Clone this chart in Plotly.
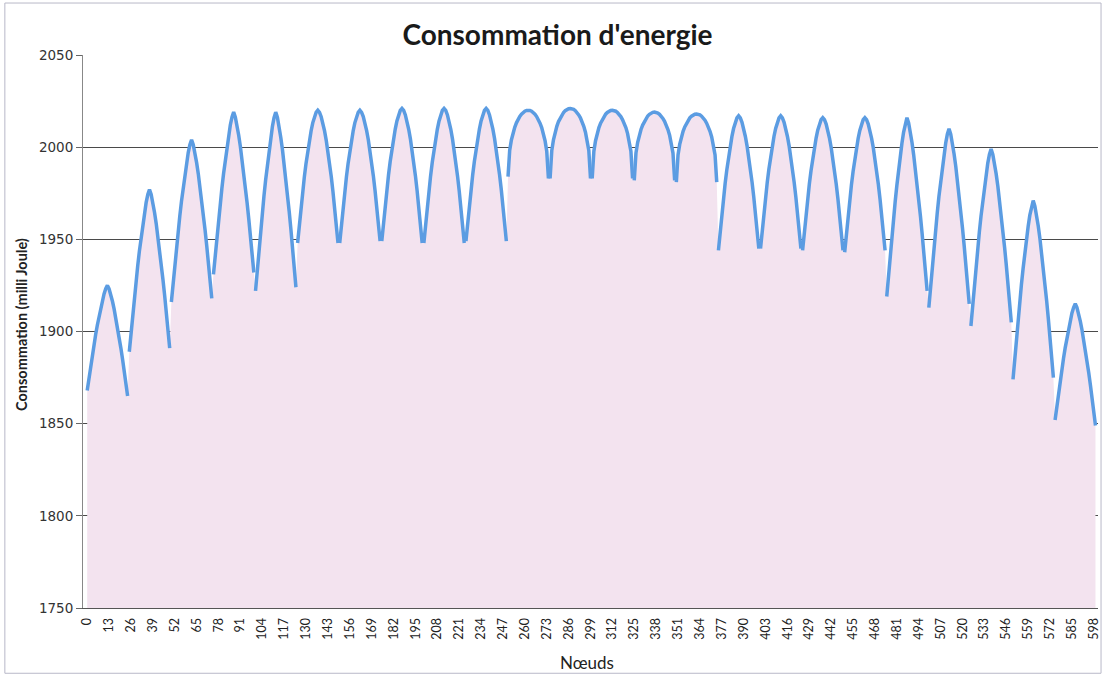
import plotly.graph_objects as go

# Consommation par noeud : 24 rangées de 25 noeuds (noeuds 0 à 599)
arch_01 = [1868.0, 1874.6, 1880.8, 1886.9, 1892.7, 1898.2, 1903.4, 1908.2, 1912.7, 1916.8, 1920.4, 1923.2, 1925.0,
           1923.1, 1920.1, 1916.4, 1912.1, 1907.4, 1902.3, 1896.8, 1891.0, 1884.9, 1878.5, 1871.9, 1865.0]
arch_02 = [1889.0, 1899.1, 1908.8, 1918.2, 1927.1, 1935.6, 1943.6, 1951.1, 1958.1, 1964.3, 1969.9, 1974.3, 1977.0,
           1974.3, 1970.0, 1964.6, 1958.5, 1951.7, 1944.4, 1936.6, 1928.2, 1919.6, 1910.4, 1900.9, 1891.0]
arch_03 = [1916.0, 1926.1, 1935.8, 1945.2, 1954.1, 1962.6, 1970.6, 1978.1, 1985.1, 1991.3, 1996.9, 2001.3, 2004.0,
           2001.3, 1997.0, 1991.6, 1985.5, 1978.7, 1971.4, 1963.6, 1955.2, 1946.6, 1937.4, 1927.9, 1918.0]
arch_04 = [1931.0, 1941.1, 1950.8, 1960.2, 1969.1, 1977.6, 1985.6, 1993.1, 2000.1, 2006.3, 2011.9, 2016.3, 2019.0,
           2016.3, 2012.0, 2006.5, 2000.3, 1993.4, 1986.0, 1978.1, 1969.7, 1960.9, 1951.6, 1942.0, 1932.0]
arch_05 = [1922.0, 1933.2, 1943.8, 1954.2, 1964.0, 1973.4, 1982.2, 1990.5, 1998.1, 2005.0, 2011.1, 2016.0, 2019.0,
           2016.1, 2011.3, 2005.3, 1998.6, 1991.1, 1983.0, 1974.4, 1965.1, 1955.5, 1945.4, 1934.9, 1924.0]
arch_06 = [1948.0, 1957.9, 1967.2, 1975.9, 1983.9, 1991.2, 1997.8, 2003.7, 2008.8, 2013.2, 2016.5, 2018.9, 2020.0,
           2018.9, 2016.5, 2013.2, 2008.8, 2003.7, 1997.8, 1991.2, 1983.9, 1975.9, 1967.2, 1957.9, 1948.0]
arch_07 = [1948.0, 1957.9, 1967.2, 1975.9, 1983.9, 1991.2, 1997.8, 2003.7, 2008.8, 2013.2, 2016.5, 2018.9, 2020.0,
           2018.9, 2016.6, 2013.3, 2009.0, 2004.0, 1998.1, 1991.6, 1984.4, 1976.5, 1968.0, 1958.8, 1949.0]
arch_08 = [1949.0, 1958.9, 1968.2, 1976.9, 1984.9, 1992.2, 1998.8, 2004.7, 2009.8, 2014.2, 2017.5, 2019.9, 2021.0,
           2019.9, 2017.5, 2014.1, 2009.7, 2004.5, 1998.5, 1991.8, 1984.4, 1976.3, 1967.5, 1958.1, 1948.0]
arch_09 = [1948.0, 1958.1, 1967.5, 1976.3, 1984.4, 1991.8, 1998.5, 2004.5, 2009.7, 2014.1, 2017.5, 2019.9, 2021.0,
           2019.9, 2017.5, 2014.1, 2009.7, 2004.5, 1998.5, 1991.8, 1984.4, 1976.3, 1967.5, 1958.1, 1948.0]
arch_10 = [1949.0, 1958.9, 1968.2, 1976.9, 1984.9, 1992.2, 1998.8, 2004.7, 2009.8, 2014.2, 2017.5, 2019.9, 2021.0,
           2019.9, 2017.5, 2014.2, 2009.8, 2004.7, 1998.8, 1992.2, 1984.9, 1976.9, 1968.2, 1958.9, 1949.0]
arch_11 = [1984.0, 1998.4, 2003.9, 2007.8, 2010.8, 2013.2, 2015.2, 2016.7, 2017.9, 2018.8, 2019.5, 2019.9, 2020.0,
           2019.9, 2019.5, 2018.8, 2017.9, 2016.6, 2015.0, 2013.0, 2010.6, 2007.5, 2003.5, 1997.8, 1983.0]
arch_12 = [1983.0, 1998.2, 2004.0, 2008.1, 2011.3, 2013.9, 2015.9, 2017.5, 2018.8, 2019.8, 2020.5, 2020.9, 2021.0,
           2020.9, 2020.5, 2019.8, 2018.8, 2017.5, 2015.9, 2013.9, 2011.3, 2008.1, 2004.0, 1998.2, 1983.0]
arch_13 = [1983.0, 1997.8, 2003.5, 2007.5, 2010.6, 2013.0, 2015.0, 2016.6, 2017.9, 2018.8, 2019.5, 2019.9, 2020.0,
           2019.9, 2019.5, 2018.8, 2017.9, 2016.6, 2015.0, 2013.0, 2010.6, 2007.5, 2003.5, 1997.8, 1983.0]
arch_14 = [1982.0, 1996.8, 2002.5, 2006.5, 2009.6, 2012.0, 2014.0, 2015.6, 2016.9, 2017.8, 2018.5, 2018.9, 2019.0,
           2018.9, 2018.5, 2017.8, 2016.9, 2015.6, 2014.0, 2012.0, 2009.6, 2006.5, 2002.5, 1996.8, 1982.0]
arch_15 = [1981.0, 1995.8, 2001.5, 2005.5, 2008.6, 2011.0, 2013.0, 2014.6, 2015.9, 2016.8, 2017.5, 2017.9, 2018.0,
           2017.9, 2017.5, 2016.8, 2015.9, 2014.6, 2013.0, 2011.0, 2008.6, 2005.5, 2001.5, 1995.8, 1981.0]
arch_16 = [1944.0, 1954.1, 1963.5, 1972.3, 1980.4, 1987.8, 1994.5, 2000.5, 2005.7, 2010.1, 2013.5, 2015.9, 2017.0,
           2015.9, 2013.5, 2010.2, 2005.8, 2000.7, 1994.8, 1988.2, 1980.9, 1972.9, 1964.2, 1954.9, 1945.0]
arch_17 = [1945.0, 1954.9, 1964.2, 1972.9, 1980.9, 1988.2, 1994.8, 2000.7, 2005.8, 2010.2, 2013.5, 2015.9, 2017.0,
           2015.9, 2013.5, 2010.2, 2005.8, 2000.7, 1994.8, 1988.2, 1980.9, 1972.9, 1964.2, 1954.9, 1945.0]
arch_18 = [1944.0, 1953.9, 1963.2, 1971.9, 1979.9, 1987.2, 1993.8, 1999.7, 2004.8, 2009.2, 2012.5, 2014.9, 2016.0,
           2014.9, 2012.5, 2009.2, 2004.8, 1999.7, 1993.8, 1987.2, 1979.9, 1971.9, 1963.2, 1953.9, 1944.0]
arch_19 = [1943.0, 1953.1, 1962.5, 1971.3, 1979.4, 1986.8, 1993.5, 1999.5, 2004.7, 2009.1, 2012.5, 2014.9, 2016.0,
           2014.9, 2012.5, 2009.2, 2004.8, 1999.7, 1993.8, 1987.2, 1979.9, 1971.9, 1963.2, 1953.9, 1944.0]
arch_20 = [1919.0, 1930.2, 1940.8, 1951.2, 1961.0, 1970.4, 1979.2, 1987.5, 1995.1, 2002.0, 2008.1, 2013.0, 2016.0,
           2013.1, 2008.4, 2002.5, 1995.8, 1988.4, 1980.4, 1971.8, 1962.7, 1953.2, 1943.2, 1932.8, 1922.0]
arch_21 = [1913.0, 1924.2, 1934.8, 1945.2, 1955.0, 1964.4, 1973.2, 1981.5, 1989.1, 1996.0, 2002.1, 2007.0, 2010.0,
           2007.1, 2002.3, 1996.3, 1989.6, 1982.1, 1974.0, 1965.4, 1956.1, 1946.5, 1936.4, 1925.9, 1915.0]
arch_22 = [1903.0, 1914.0, 1924.6, 1934.9, 1944.6, 1953.9, 1962.6, 1970.8, 1978.4, 1985.2, 1991.2, 1996.0, 1999.0,
           1996.1, 1991.4, 1985.5, 1978.8, 1971.4, 1963.4, 1954.8, 1945.7, 1936.2, 1926.2, 1915.8, 1905.0]
arch_23 = [1874.0, 1885.2, 1895.8, 1906.2, 1916.0, 1925.4, 1934.2, 1942.5, 1950.1, 1957.0, 1963.1, 1968.0, 1971.0,
           1968.0, 1963.2, 1957.2, 1950.4, 1942.8, 1934.6, 1925.9, 1916.6, 1906.9, 1896.6, 1886.0, 1875.0]
arch_24 = [1852.0, 1859.2, 1866.2, 1872.9, 1879.3, 1885.4, 1891.1, 1896.5, 1901.5, 1905.9, 1909.9, 1913.0, 1915.0,
           1913.0, 1909.7, 1905.5, 1900.8, 1895.6, 1890.0, 1884.0, 1877.6, 1870.9, 1863.9, 1856.6, 1849.0]

arches = [arch_01, arch_02, arch_03, arch_04, arch_05, arch_06, arch_07, arch_08,
          arch_09, arch_10, arch_11, arch_12, arch_13, arch_14, arch_15, arch_16,
          arch_17, arch_18, arch_19, arch_20, arch_21, arch_22, arch_23, arch_24]

x_ticks = [0, 13, 26, 39, 52, 65, 78, 91, 104, 117, 130, 143, 156, 169, 182, 195,
           208, 221, 234, 247, 260, 273, 286, 299, 312, 325, 338, 351, 364, 377, 390,
           403, 416, 429, 442, 455, 468, 481, 494, 507, 520, 533, 546, 559, 572, 585, 598]
y_ticks = [1750, 1800, 1850, 1900, 1950, 2000, 2050]

# area under the curve (continuous) + line broken between rows
x_all, y_all = [], []
x_line, y_line = [], []
node = 0
for arch in arches:
    for v in arch:
        x_all.append(node)
        y_all.append(v)
        x_line.append(node)
        y_line.append(v)
        node += 1
    x_line.append(None)
    y_line.append(None)

fig = go.Figure()

fig.add_trace(go.Scatter(
    x=x_all, y=y_all,
    mode="lines",
    line=dict(width=0, color="rgba(0,0,0,0)"),
    fill="tozeroy",
    fillcolor="#f3e3ef",
    hoverinfo="skip",
    showlegend=False
))

fig.add_trace(go.Scatter(
    x=x_line, y=y_line,
    mode="lines",
    line=dict(color="#5b9ce2", width=3.5),
    connectgaps=False,
    name="Consommation",
    showlegend=False
))

# chart frame
fig.add_shape(type="rect", xref="paper", yref="paper",
              x0=-0.077, x1=1.003, y0=-0.118, y1=1.094,
              line=dict(color="#b8b8c8", width=1), layer="below")

# axis titles placed by hand
fig.add_annotation(text="<b>Consommation (milli Joule)</b>", textangle=-90,
                   xref="paper", yref="paper", x=-0.0601, y=0.5136,
                   xanchor="center", yanchor="middle", showarrow=False,
                   font=dict(family="Lato, Open Sans, sans-serif", size=14.5, color="#222"))
fig.add_annotation(text="Nœuds", xref="paper", yref="paper",
                   x=0.497, y=-0.0977, xanchor="center", yanchor="middle", showarrow=False,
                   font=dict(family="Lato, Open Sans, sans-serif", size=17, color="#222"))

fig.update_layout(
    width=1104, height=676,
    margin=dict(l=83, r=6, t=55, b=68),
    paper_bgcolor="#ffffff",
    plot_bgcolor="#ffffff",
    title=dict(
        text="<b>Consommation d'energie</b>",
        x=0.505, xanchor="center",
        y=0.948, yanchor="middle", yref="container",
        font=dict(family="Lato, Open Sans, sans-serif", size=28, color="#1a1a1a")
    ),
    xaxis=dict(
        range=[-2.5, 600.5],
        tickmode="array",
        tickvals=x_ticks,
        ticktext=[str(t) for t in x_ticks],
        tickangle=-90,
        tickfont=dict(family="Lato, Open Sans, sans-serif", size=12.5, color="#222"),
        showgrid=False,
        zeroline=False,
        showline=True, linecolor="#555", linewidth=1,
        ticks="outside", ticklen=4, tickcolor="rgba(0,0,0,0)",
        automargin=False,
    ),
    yaxis=dict(
        range=[1750, 2050],
        tickmode="array",
        tickvals=y_ticks,
        tickfont=dict(family="DejaVu Sans, Verdana, sans-serif", size=13.5, color="#333"),
        showgrid=True, gridcolor="#4a4a4a", gridwidth=1,
        zeroline=False,
        showline=True, linecolor="#888", linewidth=1,
        ticks="outside", ticklen=6, tickcolor="#666",
        automargin=False,
    ),
)

# the page body has a default 8px margin; remove it so the figure fills the window
fig.write_html("out.html", config={"displayModeBar": False},
               post_script="document.body.style.margin='0';")
